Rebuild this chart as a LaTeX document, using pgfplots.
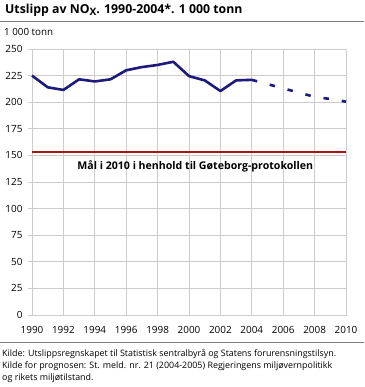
\documentclass[border=0pt]{standalone}
\usepackage{pgfplots}
\pgfplotsset{compat=1.18}
\usepackage{fontspec}
\setmainfont{Open Sans}
\definecolor{navy}{HTML}{1E1A7C}
\definecolor{goal}{HTML}{A01818}
\definecolor{gridc}{HTML}{CCCCCC}
\definecolor{rulec}{HTML}{808080}
\begin{document}
\begin{tikzpicture}[x=1pt,y=1pt]
\useasboundingbox (0,0) rectangle (364,387);
\node[anchor=west,inner sep=0pt,font=\bfseries\fontsize{12.3}{14}\selectfont] at (5,377) {Utslipp av NO\raisebox{-2.2pt}{\fontsize{10.2}{10}\selectfont X}. 1990-2004*. 1 000 tonn};
\draw[rulec, line width=0.8pt] (0,366) -- (364,366);
\node[anchor=west,inner sep=0pt,font=\fontsize{9.8}{11}\selectfont] at (4,354.7) {1 000 tonn};
\begin{axis}[
  at={(32pt,72pt)}, anchor=south west,
  scale only axis, width=314pt, height=266pt,
  xmin=1990, xmax=2010, ymin=0, ymax=250,
  xtick={1990,1992,...,2010}, ytick={0,25,...,250},
  xticklabels={1990,1992,1994,1996,1998,2000,2002,2004,2006,2008,2010},
  grid=major, major grid style={draw=gridc, line width=0.7pt},
  axis line style={draw=gridc, line width=0.7pt},
  xtick style={draw=none},
  ytick pos=left, tick align=outside, major tick length=4pt,
  ytick style={draw=gridc, line width=0.7pt},
  /pgf/number format/assume math mode=true,
  ticklabel style={font=\fontsize{9.9}{11}\selectfont},
  xticklabel style={yshift=-4pt},
  yticklabel style={xshift=-2pt},
  clip=false,
]
\addplot[goal, line width=2.2pt] coordinates {(1990,153) (2010,153)};
\addplot[navy, line width=2.6pt, line join=round] coordinates {
(1990,225) (1991,214) (1992,211.5) (1993,221.5) (1994,219.5) (1995,221.5)
(1996,230) (1997,233) (1998,235) (1999,238) (2000,224.5) (2001,220.5)
(2002,210.5) (2003,220.5) (2004,221)};
\addplot[navy, line width=2.6pt, dash pattern=on 5.5pt off 13pt] coordinates {
(2004,221) (2005,217) (2006,213) (2007,209) (2008,205) (2009,203) (2010,200.5)};
\node[font=\bfseries\fontsize{10.6}{12}\selectfont] at (axis cs:2000.4,140) {Mål i 2010 i henhold til Gøteborg-protokollen};
\end{axis}
\draw[rulec, line width=0.8pt] (0,44.3) -- (364,44.3);
\node[anchor=west,inner sep=0pt,font=\fontsize{8.9}{10}\selectfont] at (2,33) {Kilde: Utslippsregnskapet til Statistisk sentralbyrå og Statens forurensningstilsyn.};
\node[anchor=west,inner sep=0pt,font=\fontsize{8.9}{10}\selectfont] at (2,21) {Kilde for prognosen: St. meld. nr. 21 (2004-2005) Regjeringens miljøvernpolitikk};
\node[anchor=west,inner sep=0pt,font=\fontsize{8.9}{10}\selectfont] at (2,8.5) {og rikets miljøtilstand.};
\end{tikzpicture}
\end{document}
